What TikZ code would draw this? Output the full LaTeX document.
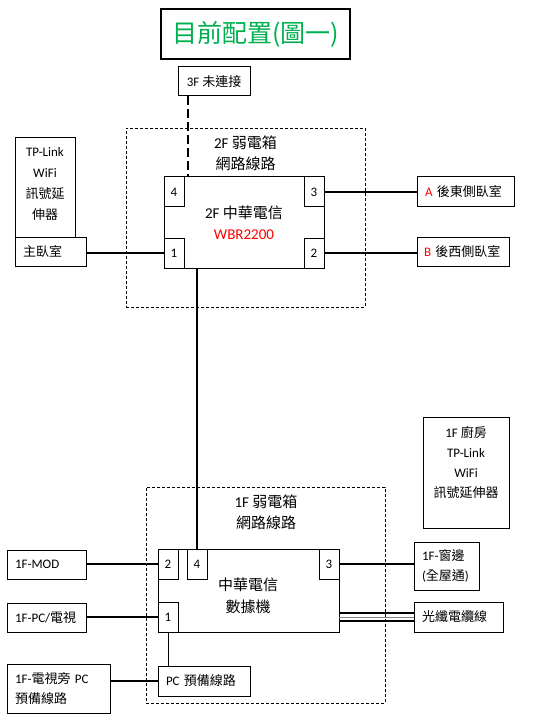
\documentclass[tikz,border=0pt]{standalone}
\usepackage{fontspec}
\setmainfont{Carlito}
\newfontfamily\cjkf{Noto Sans CJK TC}
\newcommand\zh[1]{{\cjkf #1}}
\usetikzlibrary{calc}
\definecolor{titlegreen}{RGB}{0,176,80}
\definecolor{wred}{RGB}{255,0,0}
\begin{document}
\begin{tikzpicture}[x=1pt,y=-1pt,
  box/.style={draw, line width=1pt, inner sep=0pt, outer sep=0pt, anchor=north west, font=\fontsize{13}{20.7}\selectfont, align=center},
  lbox/.style={box, align=left, inner xsep=8pt},
  dbox/.style={draw, line width=0.8pt, dash pattern=on 3pt off 2pt, inner sep=0pt, outer sep=0pt, anchor=north west},
  txt/.style={inner sep=0pt, align=center, font=\fontsize{13}{20.7}\selectfont},
  bigtxt/.style={inner sep=0pt, align=center, font=\fontsize{15}{21}\selectfont},
  conn/.style={line width=2pt},
  thinconn/.style={line width=1pt},
  dashconn/.style={line width=2pt, dash pattern=on 9pt off 4pt}]
\path[fill=white, use as bounding box] (0,0) rectangle (553,727);

% title
\node[box, line width=1.2pt, minimum width=189pt, minimum height=50pt, font=\cjkf\fontsize{25}{30}\selectfont, text=titlegreen] (title) at (161,9) {目前配置(圖一)};

% 3F
\node[box, minimum width=72pt, minimum height=29pt] (n3F) at (178,67) {3F \zh{未連接}};

% 2F weak box
\node[dbox, minimum width=239pt, minimum height=179pt] (box2F) at (126,128) {};
\node[bigtxt] (lbl2F) at (245.5,153.5) {2F \zh{弱電箱}\\\zh{網路線路}};

% 2F router
\node[box, minimum width=160pt, minimum height=91pt] (r2F) at (164,177) {};
\node[bigtxt] (r2Ftxt) at (244,222.5) {2F \zh{中華電信}\\\textcolor{wred}{WBR2200}};
\node[box, minimum width=20pt, minimum height=30pt] (p4) at (164,177) {4};
\node[box, minimum width=20pt, minimum height=30pt] (p3) at (304,177) {3};
\node[box, minimum width=20pt, minimum height=30pt] (p1) at (164,238) {1};
\node[box, minimum width=20pt, minimum height=30pt] (p2) at (304,238) {2};

% left side 2F
\node[box, minimum width=60pt, minimum height=99pt] (tp2) at (15,138) {};
\node[txt] (tp2txt) at (45,184) {TP-Link\\WiFi\\\zh{訊號延}\\\zh{伸器}};
\node[lbox, text width=55pt, minimum height=29pt] (master) at (15,237) {\zh{主臥室}};

% right side 2F
\node[lbox, text width=81pt, minimum height=30pt] (roomA) at (417,177) {\mbox{\textcolor{wred}{A} \zh{後東側臥室}}};
\node[lbox, inner xsep=7pt, text width=78pt, minimum height=29pt] (roomB) at (417,237) {\mbox{\textcolor{wred}{B} \zh{後西側臥室}}};

% kitchen
\node[box, minimum width=86pt, minimum height=111pt] (kit) at (423,417) {};
\node[txt, font=\fontsize{13}{20}\selectfont] (kittxt) at (466,462) {1F \zh{廚房}\\TP-Link\\WiFi\\\zh{訊號延伸器}};

% 1F weak box
\node[dbox, minimum width=239pt, minimum height=216pt] (box1F) at (146,487) {};
\node[bigtxt] (lbl1F) at (266,512.5) {1F \zh{弱電箱}\\\zh{網路線路}};

% modem
\node[box, minimum width=181pt, minimum height=83pt] (modem) at (158,549) {};
\node[bigtxt, font=\fontsize{15}{22}\selectfont] (modemtxt) at (248,596) {\zh{中華電信}\\\zh{數據機}};
\node[box, minimum width=20pt, minimum height=30pt] (q2) at (158,549) {2};
\node[box, minimum width=20pt, minimum height=30pt] (q4) at (187,549) {4};
\node[box, minimum width=20pt, minimum height=30pt] (q3) at (319,549) {3};
\node[box, minimum width=20pt, minimum height=30pt] (q1) at (158,602) {1};

% left 1F
\node[lbox, text width=63pt, minimum height=29pt] (mod) at (7,550) {1F-MOD};
\node[lbox, text width=63pt, minimum height=29pt] (pctv) at (7,603) {1F-PC/\zh{電視}};
\node[lbox, text width=87pt, minimum height=49pt] (tvpc) at (7,664) {1F-\zh{電視旁} PC\\\zh{預備線路}};
\node[lbox, text width=76pt, minimum height=30pt] (pcres) at (158,666) {\mbox{PC \zh{預備線路}}};

% right 1F
\node[lbox, text width=49pt, minimum height=48pt] (win) at (414,542) {1F-\zh{窗邊}\\(\zh{全屋通})};
\node[lbox, text width=73pt, minimum height=30pt] (fiber) at (414,602) {\zh{光纖電纜線}};

% connectors
\coordinate (d3) at ($(n3F.south west)+(10,0)$);
\draw[dashconn] (d3) -- (d3 |- r2F.north);
\draw[conn] (p3.east) -- (p3.east -| roomA.west);
\draw[conn] (p2.east) -- (p2.east -| roomB.west);
\draw[conn] (master.east |- p1.west) -- (p1.west);
\draw[conn] (r2F.south -| q4.north) -- (q4.north);
\draw[conn] (mod.east |- q2.west) -- (q2.west);
\draw[conn] (pctv.east |- q1.west) -- (q1.west);
\draw[conn] (tvpc.east |- pcres.west) -- (pcres.west);
\draw[thinconn] (q1.south) -- (q1.south |- pcres.north);
\draw[conn] (q3.east) -- (q3.east -| win.west);
% fiber cable
\coordinate (fa) at (modem.east |- fiber.west);
\coordinate (fb) at (fiber.west);
\draw[line width=1.6pt] ($(fa)+(0,-3.8)$) -- ($(fb)+(0,-3.8)$);
\draw[line width=0.7pt, gray] ($(fa)+(0,0.5)$) -- ($(fb)+(0,0.5)$);
\draw[line width=1.6pt] ($(fa)+(0,4.2)$) -- ($(fb)+(0,4.2)$);
\end{tikzpicture}
\end{document}
